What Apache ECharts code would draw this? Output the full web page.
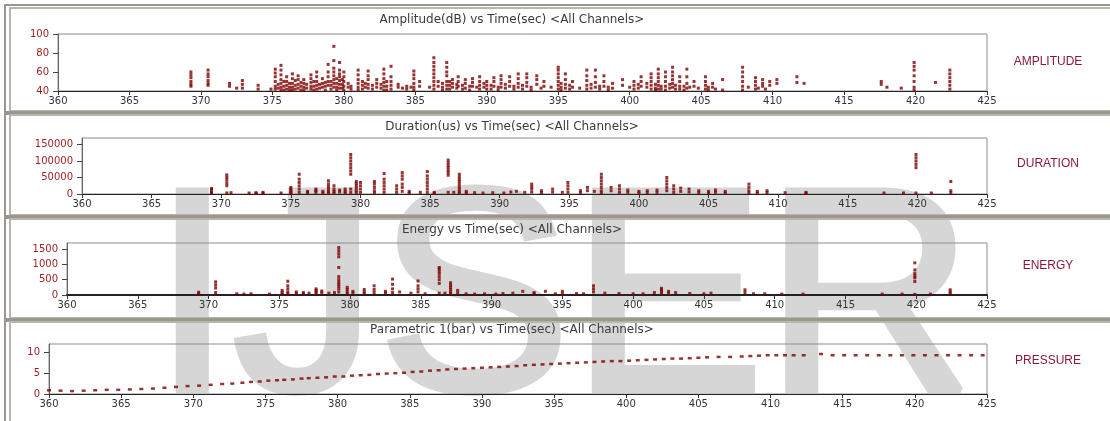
<!DOCTYPE html>
<html><head><meta charset="utf-8">
<script src="https://cdn.jsdelivr.net/npm/echarts@6/dist/echarts.min.js"></script>
<style>html,body{margin:0;padding:0;background:#fff;}#c{width:1110px;height:421px;}</style>
</head><body><div id="c"></div>
<script>
// ---------------- DATA ----------------
const panelTitles = [
  'Amplitude(dB) vs Time(sec) <All Channels>',
  'Duration(us) vs Time(sec) <All Channels>',
  'Energy vs Time(sec) <All Channels>',
  'Parametric 1(bar) vs Time(sec) <All Channels>'
];
const sideLabels = ['AMPLITUDE', 'DURATION', 'ENERGY', 'PRESSURE'];
const watermarkText = 'IJSER';

const timeRange = [360, 425, 5];
const ampAxis = [40, 100];          const ampTicks = [40, 60, 80, 100];
const durAxis = [0, 170000];        const durTicks = [0, 50000, 100000, 150000];
const energyAxis = [0, 1700];       const energyTicks = [0, 500, 1000, 1500];
const pressureAxis = [0, 12];       const pressureTicks = [0, 5, 10];

// [time (sec), [values at that time]]
const amplitudeCols = [
 [369.3,[60,57,54,50,47,45]],[370.5,[62,58,55,51,48,46]],[372.0,[48,45]],[372.5,[43]],
 [372.9,[51,47,43]],[374.0,[46,42]],[374.9,[42]],[375.2,[63,59,55,50,45,42]],
 [375.6,[67,62,57,52,48,44,41]],[376.0,[55,50,46,42]],[376.4,[58,53,48,44,41]],
 [376.8,[56,52,47,43]],[377.2,[52,48,44,41]],[377.7,[57,53,49,45,42]],[378.1,[60,55,50,46,42]],
 [378.5,[53,48,44]],[378.9,[68,60,55,50,46]],[379.3,[87,72,64,60,56,52,48,44]],
 [379.7,[70,62,58,55,51,47,43]],[380.0,[60,55,50,45,41]],[380.5,[45,42]],
 [381.0,[62,57,52,48,44,41]],[381.7,[61,56,52,47,43]],[382.3,[52,48,44]],
 [382.8,[63,58,53,49,45,41]],[383.3,[66,55,50,46,42]],[383.8,[47,44]],[384.4,[45,42]],
 [384.9,[61,57,53,48,44,41]],[385.3,[50,45]],[386.3,[75,70,66,62,58,54,50,46,42]],
 [386.6,[50,45]],[387.2,[70,65,60,56,50,46,42]],[387.6,[52,48,44]],[388.0,[55,50,45]],
 [388.5,[52,48,43]],[389.0,[53,49,45]],[389.5,[55,50,46,42]],[390.0,[50,46,42]],
 [390.5,[54,50,45]],[391.0,[56,52,48,44]],[391.6,[55,50,45]],[392.2,[58,53,48,44]],
 [392.8,[58,54,49,45]],[393.5,[56,52,47]],[394.0,[50,45]],[395.0,[65,62,58,54,50,46,42]],
 [395.5,[58,52,47,43]],[396.0,[50,44]],[397.0,[62,56,51,46,42]],[397.6,[62,55,49,44]],
 [398.2,[56,50,45]],[398.8,[48,43]],[399.5,[52,46]],[400.3,[50,46,42]],[400.8,[55,50,45]],
 [401.5,[58,54,50,46,42]],[402.0,[63,58,54,50,46,42]],[402.5,[60,55,50,45,41]],
 [403.0,[65,60,56,52,48,44]],[403.5,[55,50,45,42]],[404.0,[63,55,48,43]],[404.5,[50,45]],
 [405.3,[55,50,46,42]],[405.8,[48,44]],[406.5,[52,41]],[407.9,[65,60,55,50,45,41]],
 [408.8,[54,50,46,42]],[409.3,[52,48,45]],[409.8,[50,46]],[410.3,[52,48]],[411.7,[55,49]],
 [412.2,[48]],[417.6,[50,47]],[418.0,[44]],[419.0,[43]],[419.9,[70,66,62,56,50,44,41]],
 [421.4,[49]],[422.4,[62,58,54,50,46,42]],
 [375.4,[47,43]],[375.8,[50,45,41]],[376.2,[48,44,41]],[376.6,[51,46,42]],[377.0,[49,45,41]],
 [377.4,[47,43]],[377.9,[50,45,41]],[378.3,[47,43]],[378.7,[49,45,41]],[379.1,[50,46,42]],
 [379.5,[53,48,44,41]],[379.9,[52,47,43]],[380.3,[48,44]],[381.3,[50,46,42]],[381.5,[48,44]],
 [382.0,[46,42]],[382.6,[47,43]],[383.0,[50,45,41]],[384.1,[43]],[384.7,[44]],[386.0,[44]],
 [386.9,[48,44,41]],[387.4,[50,46,42]],[387.9,[47,43]],[388.3,[46,42]],[388.8,[45,41]],
 [389.3,[44]],[389.8,[48,44]],[390.3,[46,42]],[390.8,[44,41]],[391.3,[47,43]],[391.9,[45,42]],
 [392.5,[46,42]],[393.1,[44,41]],[393.8,[43]],[394.5,[44]],[395.2,[48,44,41]],[395.8,[46,42]],
 [396.5,[43]],[397.3,[47,43]],[397.9,[45,42]],[398.5,[44,41]],[400.0,[44]],[400.6,[47,43]],
 [401.2,[48,44]],[401.8,[47,43,41]],[402.2,[45,42]],[402.8,[47,43]],[403.2,[46,42]],
 [403.8,[45,41]],[404.2,[44]],[404.8,[43]],[405.5,[44,41]],[406.0,[42]],[408.3,[44]],
 [409.0,[43]],[409.5,[42]]
];

const durationCols = [
 [369.3,[17000,12000,6000,2000]],[370.4,[58000,50000,42000,33000,25000,3000]],[370.7,[4000]],
 [372.0,[3000]],[372.5,[4000,2000]],[373.0,[5000,2000]],[374.3,[3000]],
 [375.0,[20000,15000,10000,5000,2000]],[375.6,[60000,45000,35000,25000,15000,5000]],
 [376.2,[8000,4000]],[376.8,[15000,10000,5000]],[377.3,[8000,3000]],
 [377.7,[40000,30000,22000,15000,8000,3000]],[378.1,[25000,15000,8000,3000]],
 [378.5,[12000,6000]],[378.9,[15000,8000,3000]],
 [379.3,[120000,110000,100000,90000,80000,70000,60000,15000,5000]],
 [379.7,[38000,32000,25000,18000,10000,4000]],[380.0,[35000,25000,15000,5000]],
 [381.0,[38000,30000,20000,10000,3000]],[381.7,[62000,45000,35000,25000,15000,5000]],
 [382.6,[25000,15000,5000]],[383.0,[65000,55000,45000,30000,20000,8000]],
 [383.5,[8000,3000]],[384.3,[5000]],[384.8,[68000,55000,45000,35000,25000,15000,5000]],
 [385.3,[5000,2000]],[386.3,[103000,95000,87000,80000,72000,65000,57000,5000]],[386.7,[5000]],
 [387.1,[60000,52000,45000,38000,30000,22000,15000,8000,3000]],[387.6,[8000,3000]],
 [388.2,[4000]],[388.8,[3000]],[389.5,[4000]],[390.3,[3000]],[390.8,[6000]],[391.2,[8000]],
 [391.8,[5000]],[392.3,[30000,22000,15000,6000]],[393.0,[10000,4000]],[393.8,[15000,6000]],
 [394.5,[5000]],[394.9,[35000,25000,15000,5000]],[395.8,[10000,3000]],[396.3,[20000,10000]],
 [396.8,[8000]],[397.3,[60000,50000,40000,30000,20000,10000,3000]],[398.0,[20000,10000]],
 [398.6,[25000,15000,5000]],[399.2,[12000,5000]],[400.0,[8000,3000]],[400.6,[10000,4000]],
 [401.3,[12000,5000]],[402.0,[50000,40000,30000,20000,10000]],[402.5,[25000,15000,5000]],
 [403.0,[18000,8000]],[403.6,[15000,6000]],[404.3,[10000,4000]],[405.0,[8000,3000]],
 [405.5,[12000,5000]],[406.2,[8000,3000]],[407.9,[30000,20000,10000,3000]],
 [408.5,[8000,3000]],[409.2,[10000,4000]],[410.5,[4000]],[412.0,[5000,2000]],
 [417.6,[3000]],[419.0,[3000]],[419.9,[120000,110000,100000,90000,80000,3000]],
 [421.0,[3000]],[422.4,[38000,10000,3000]]
];

const energyCols = [
 [369.3,[90,40]],[370.5,[430,330,230,80]],[372.0,[40]],[372.5,[30]],[373.0,[40]],[374.3,[30]],
 [375.2,[150,80,30]],[375.6,[450,300,200,100,40]],[376.2,[100,50]],[376.7,[80,40]],[377.1,[60]],
 [377.6,[200,150,100,50]],[378.0,[130,70]],[378.5,[60]],[378.9,[80]],
 [379.2,[1550,1450,1350,1250,900,600,500,420,350,280,200,100]],
 [379.8,[250,180,100,40]],[380.2,[120,60]],[381.0,[180,100,40]],[381.7,[300,180,80]],
 [382.5,[120,60]],[383.0,[520,350,200,80]],[383.5,[100]],[384.3,[60]],
 [384.8,[460,300,200,100]],[385.3,[40]],[386.3,[900,850,780,700,600,500,380,60]],[386.7,[60]],
 [387.1,[400,320,250,180,100,50]],[387.6,[150,60]],[388.2,[40]],[388.8,[30]],[389.5,[40]],
 [390.3,[30]],[390.8,[50]],[391.5,[60]],[392.2,[120]],[393.0,[80,40]],[393.8,[120]],
 [394.5,[40]],[395.0,[120,40]],[396.0,[50]],[396.5,[40]],[397.2,[300,200,100]],[398.0,[60]],
 [399.0,[50]],[400.0,[40]],[400.7,[40]],[401.5,[80]],[402.0,[220,170,120,60]],
 [402.5,[120,60]],[403.0,[80]],[404.0,[50]],[405.0,[40]],[405.5,[60]],[407.9,[170,80]],
 [408.5,[40]],[409.3,[40]],[410.5,[30]],[412.0,[30]],[417.6,[30]],[419.0,[30]],
 [419.9,[1050,820,700,620,560,440,20]],[421.0,[30]],[422.4,[170,100,40]]
];

const pressureTime = [360.0,360.8,361.6,362.4,363.2,364.0,364.8,365.6,366.4,367.2,368.0,368.8,
 369.6,370.4,371.2,372.0,372.7,373.4,374.0,374.6,375.2,375.8,376.3,376.9,377.5,378.0,378.6,
 379.2,379.8,380.4,381.0,381.6,382.2,382.8,383.4,384.0,384.6,385.2,385.8,386.4,387.0,387.6,
 388.2,388.8,389.4,390.0,390.6,391.2,391.8,392.4,393.0,393.6,394.2,394.8,395.4,396.0,396.6,
 397.2,397.8,398.4,399.0,399.6,400.2,400.8,401.4,402.0,402.6,403.2,403.8,404.4,405.0,405.6,
 406.4,407.2,408.0,408.6,409.2,409.8,410.4,411.0,411.6,412.3,413.5,414.3,415.1,415.9,416.7,
 417.5,418.3,419.1,419.9,420.7,421.5,422.3,423.1,423.9,424.7];
const pressureBar = [0.9,0.8,0.7,0.8,0.9,1.0,1.0,1.1,1.2,1.3,1.5,1.7,
 1.9,2.0,2.2,2.4,2.5,2.7,2.9,3.0,3.2,3.3,3.4,3.5,3.7,3.8,3.9,
 4.0,4.2,4.2,4.4,4.5,4.6,4.8,4.9,5.0,5.1,5.3,5.4,5.6,5.7,5.9,
 6.0,6.1,6.2,6.3,6.4,6.5,6.6,6.7,6.9,7.0,7.1,7.2,7.3,7.4,7.5,
 7.6,7.7,7.8,7.9,7.9,8.0,8.1,8.2,8.3,8.4,8.5,8.5,8.6,8.7,8.8,
 8.9,8.9,9.0,9.1,9.2,9.3,9.3,9.3,9.3,9.3,9.6,9.3,9.3,9.3,9.3,
 9.3,9.3,9.3,9.3,9.3,9.3,9.3,9.3,9.3,9.3];

// ---------------- CHART ----------------
const flat = cols => cols.flatMap(([t, vals]) => vals.map(v => [t, v]));
const pressurePts = pressureTime.map((t, i) => [t, pressureBar[i]]);

const layout = [
  {left: 58, top: 34, height: 57, titleY: 20, sideY: 62, frame: [5, 114]},
  {left: 82, top: 138, height: 56, titleY: 127, sideY: 164, frame: [112, 218]},
  {left: 67, top: 243, height: 52, titleY: 230, sideY: 266, frame: [216, 321]},
  {left: 49, top: 344, height: 50, titleY: 330, sideY: 361, frame: [319, 425]}
];
const yRanges = [ampAxis, durAxis, energyAxis, pressureAxis];
const yTicks = [ampTicks, durTicks, energyTicks, pressureTicks];
const seriesData = [flat(amplitudeCols), flat(durationCols), flat(energyCols), pressurePts];

const MARK = '#7d0000';

const grids = layout.map(l => ({
  left: l.left, right: 123, top: l.top, height: l.height,
  show: true, borderColor: '#8c8c8c', borderWidth: 1, backgroundColor: 'transparent'
}));
const xAxes = layout.map((l, i) => ({
  type: 'value', gridIndex: i, min: timeRange[0], max: timeRange[1], interval: timeRange[2],
  axisLine: {show: true, lineStyle: {color: '#222', width: i === 2 ? 2 : 1}},
  axisTick: {show: true, length: 4, lineStyle: {color: '#333'}},
  axisLabel: {fontFamily: 'DejaVu Sans', fontSize: 10, color: '#333', margin: 5},
  splitLine: {show: false}
}));
const yAxes = layout.map((l, i) => ({
  type: 'value', gridIndex: i, min: yRanges[i][0], max: yRanges[i][1],
  axisLine: {show: true, lineStyle: {color: '#666'}},
  axisTick: {show: true, length: 5, customValues: yTicks[i], lineStyle: {color: '#444'}},
  axisLabel: {fontFamily: 'DejaVu Sans', fontSize: 10, color: '#a02424', margin: 9,
    customValues: yTicks[i], formatter: v => String(v)},
  splitLine: {show: false}
}));
const series = seriesData.map((d, i) => ({
  type: 'scatter', xAxisIndex: i, yAxisIndex: i, data: d,
  symbol: 'rect', symbolSize: i === 3 ? [4, 2.5] : [3, 3],
  itemStyle: {color: MARK}, silent: true, z: 5
}));

const graphics = [];
graphics.push({
  type: 'text', z: -10, silent: true,
  style: {text: watermarkText, x: 152, y: 310, fontSize: 290, fontFamily: 'Liberation Sans',
    fontWeight: 'normal', fill: '#d6d6d6', stroke: '#d6d6d6', lineWidth: 6,
    verticalAlign: 'middle', align: 'left'}
});
layout.forEach((l, i) => {
  const [y0, y1] = l.frame;
  graphics.push({type: 'rect', z: -5, silent: true,
    shape: {x: 5, y: y0, width: 1200, height: y1 - y0},
    style: {fill: null, stroke: '#9a978f', lineWidth: 2}});
  graphics.push({type: 'rect', z: -5, silent: true,
    shape: {x: 10, y: y0 + 3, width: 1200, height: y1 - y0 - 6},
    style: {fill: null, stroke: '#b9b6ad', lineWidth: 2}});
  graphics.push({type: 'text', z: 10, silent: true,
    style: {text: panelTitles[i], x: 512, y: l.titleY, fontSize: 12, fontFamily: 'DejaVu Sans',
      fill: '#3a3a3a', align: 'center', verticalAlign: 'middle'}});
  graphics.push({type: 'text', z: 10, silent: true,
    style: {text: sideLabels[i], x: 1048, y: l.sideY,
      fontSize: 12, fontFamily: 'Liberation Sans', fill: '#8b1a3a',
      align: 'center', verticalAlign: 'middle'}});
});

const chart = echarts.init(document.getElementById('c'), null, {renderer: 'canvas'});
chart.setOption({
  animation: false,
  backgroundColor: '#ffffff',
  grid: grids, xAxis: xAxes, yAxis: yAxes, series: series, graphic: graphics
});
</script></body></html>
